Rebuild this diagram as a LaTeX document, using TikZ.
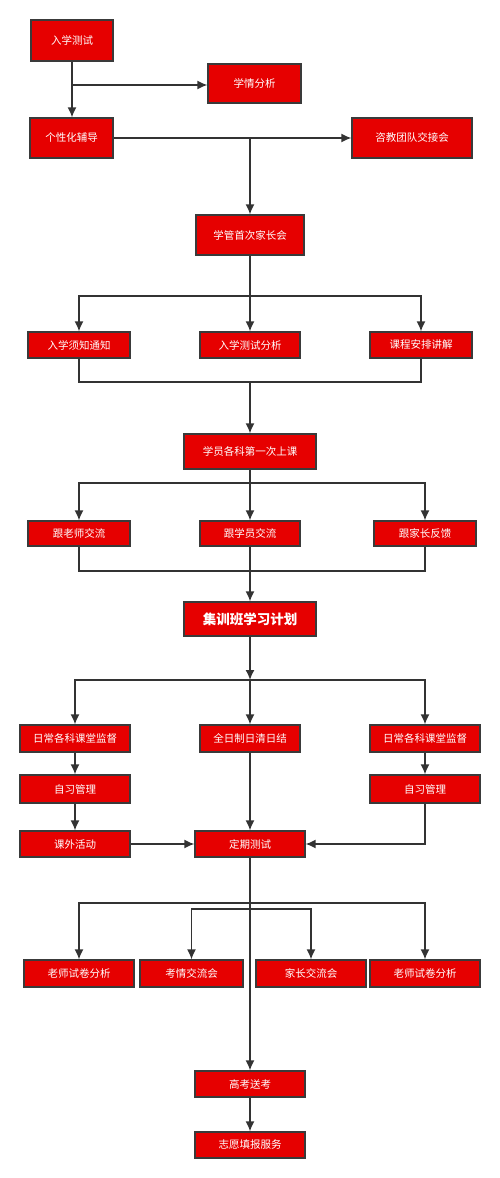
\documentclass[tikz,border=0pt]{standalone}
\usepackage{fontspec}
\setmainfont{Noto Sans CJK SC}
\usetikzlibrary{arrows.meta}
\definecolor{boxred}{HTML}{E60000}
\definecolor{boxline}{HTML}{3A3A3A}
\definecolor{wirec}{HTML}{333333}
\tikzset{%
  >={Latex[width=9pt,length=10pt]},
  % Specifications for style of nodes:
      base/.style = {rectangle, draw=boxline, fill=boxred, line width=1.2pt,
                     text=white, inner sep=0pt, text centered,
                     font=\fontsize{10.5}{12}\selectfont},
      tall/.style = {base, minimum height=40pt},
     plain/.style = {base, minimum height=26pt},
      wide/.style = {base, minimum width=132pt, minimum height=35pt},
      wire/.style = {draw=wirec, line width=1.6pt},
}

\begin{document}
\begin{tikzpicture}[x=1pt, y=-1pt]
  \useasboundingbox (0,0) rectangle (500,1178);
  % Specification of nodes (position, etc.)
  \node (test)       [tall, minimum width=82pt, minimum height=41pt] at (72,40.5)  {入学测试};
  \node (xq)         [tall, minimum width=93pt, minimum height=39pt] at (254.5,83.5) {学情分析};
  \node (tutor)      [tall, minimum width=83pt]  at (71.5,138) {个性化辅导};
  \node (handover)   [tall, minimum width=120pt] at (412,138)  {咨教团队交接会};
  \node (meeting)    [tall, minimum width=108pt] at (250,235)  {学管首次家长会};
  \node (notice)     [plain, minimum width=102pt] at (79,345)  {入学须知通知};
  \node (testanal)   [plain, minimum width=100pt] at (250,345) {入学测试分析};
  \node (course)     [plain, minimum width=102pt] at (421,345) {课程安排讲解};
  \node (first)      [wide]                       at (250,451.5) {学员各科第一次上课};
  \node (teacher)    [plain, minimum width=102pt, minimum height=25pt] at (79,533.5)  {跟老师交流};
  \node (student)    [plain, minimum width=100pt, minimum height=25pt] at (250,533.5) {跟学员交流};
  \node (parent)     [plain, minimum width=102pt, minimum height=25pt] at (425,533.5) {跟家长反馈};
  \node (plan)       [wide, minimum height=34pt, font=\fontsize{13.5}{15}\selectfont\bfseries]
                                                  at (250,619) {集训班学习计划};
  \node (superL)     [plain, minimum width=110pt, minimum height=27pt] at (75,738.5)  {日常各科课堂监督};
  \node (daily)      [plain, minimum width=100pt, minimum height=27pt] at (250,738.5) {全日制日清日结};
  \node (superR)     [plain, minimum width=110pt, minimum height=27pt] at (425,738.5) {日常各科课堂监督};
  \node (selfL)      [plain, minimum width=110pt, minimum height=28pt] at (75,789)    {自习管理};
  \node (selfR)      [plain, minimum width=110pt, minimum height=28pt] at (425,789)   {自习管理};
  \node (outside)    [plain, minimum width=110pt] at (75,844)  {课外活动};
  \node (exam)       [plain, minimum width=110pt] at (250,844) {定期测试};
  \node (paperL)     [plain, minimum width=110pt, minimum height=27pt] at (79,973.5)    {老师试卷分析};
  \node (examtalk)   [plain, minimum width=103pt, minimum height=27pt] at (191.5,973.5) {考情交流会};
  \node (parenttalk) [plain, minimum width=110pt, minimum height=27pt] at (311,973.5)   {家长交流会};
  \node (paperR)     [plain, minimum width=110pt, minimum height=27pt] at (425,973.5)   {老师试卷分析};
  \node (gaokao)     [plain, minimum width=110pt] at (250,1084) {高考送考};
  \node (wish)       [plain, minimum width=110pt] at (250,1145) {志愿填报服务};
  % Branch and merge points
  \coordinate (split0) at (72,85);
  \coordinate (split1) at (250,138);
  \coordinate (split2) at (250,296);
  \coordinate (merge2) at (250,382);
  \coordinate (split3) at (250,483);
  \coordinate (merge3) at (250,571);
  \coordinate (split4) at (250,680);
  \coordinate (split5) at (250,903);
  \coordinate (split6) at (250,909);
  % Specification of lines between nodes specified above
  \draw[wire,->] (test.south) -- (test.south |- tutor.north);
  \draw[wire,->]     (split0) -- (split0 -| xq.west);
  \draw[wire,->]      (tutor) -- (handover);
  \draw[wire,->]     (split1) -- (meeting);
  \draw[wire]       (meeting) -- (split2);
  \draw[wire,->]     (split2) -| (notice);
  \draw[wire,->]     (split2) -- (testanal);
  \draw[wire,->]     (split2) -| (course);
  \draw[wire]        (notice) |- (merge2) -| (course);
  \draw[wire,->]     (merge2) -- (first);
  \draw[wire]         (first) -- (split3);
  \draw[wire,->]     (split3) -| (teacher);
  \draw[wire,->]     (split3) -- (student);
  \draw[wire,->]     (split3) -| (parent);
  \draw[wire]       (teacher) |- (merge3) -| (parent);
  \draw[wire,->]    (student) -- (plan);
  \draw[wire,->]       (plan) -- (split4);
  \draw[wire,->]     (split4) -| (superL);
  \draw[wire,->]     (split4) -- (daily);
  \draw[wire,->]     (split4) -| (superR);
  \draw[wire,->]     (superL) -- (selfL);
  \draw[wire,->]      (selfL) -- (outside);
  \draw[wire,->]     (superR) -- (selfR);
  \draw[wire,->]    (outside) -- (exam);
  \draw[wire,->]      (daily) -- (exam);
  \draw[wire,->]      (selfR) |- (exam);
  \draw[wire,->]       (exam) -- (gaokao);
  \draw[wire,->]     (split5) -| (paperL);
  \draw[wire,->]     (split5) -| (paperR);
  \draw[wire,->]     (split6) -| (examtalk);
  \draw[wire,->]     (split6) -| (parenttalk);
  \draw[wire,->]     (gaokao) -- (wish);
\end{tikzpicture}
\end{document}
